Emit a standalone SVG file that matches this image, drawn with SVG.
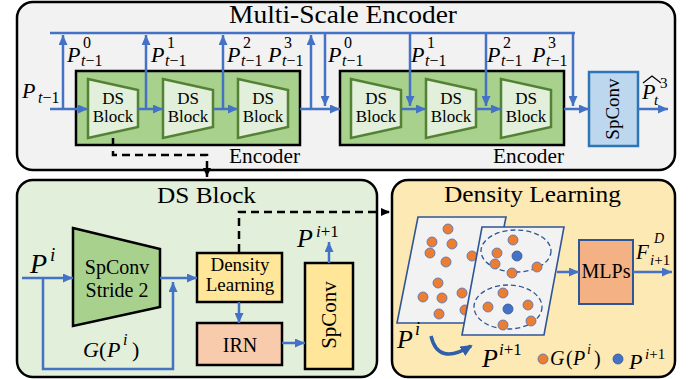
<svg xmlns="http://www.w3.org/2000/svg" width="695" height="379" viewBox="0 0 695 379" font-family="Liberation Serif">
<defs>
<marker id="ab" markerUnits="userSpaceOnUse" markerWidth="10" markerHeight="9" refX="10" refY="4.5" orient="auto"><path d="M0,0 L10,4.5 L0,9 z" fill="#4472c4"/></marker>
<marker id="ak" markerUnits="userSpaceOnUse" markerWidth="9" markerHeight="8" refX="9" refY="4" orient="auto"><path d="M0,0 L9,4 L0,8 z" fill="#000"/></marker>
<marker id="ac" markerUnits="userSpaceOnUse" markerWidth="12" markerHeight="11" refX="10" refY="5.5" orient="auto"><path d="M0,0 L12,5.5 L0,11 z" fill="#2e5fa8"/></marker>
</defs>
<style>
.m{font-style:italic}
.u{font-style:normal}
.panel{stroke:#000;stroke-width:2.5}
.box{stroke:#000;stroke-width:2.5}
.ds{fill:#e2efda;stroke:#548235;stroke-width:2.5}
.bl{fill:none;stroke:#4472c4;stroke-width:2.5}
.ba{fill:none;stroke:#4472c4;stroke-width:2.5;marker-end:url(#ab)}
.dash{fill:none;stroke:#000;stroke-width:2.5;stroke-dasharray:8 5;marker-end:url(#ak)}
.od{fill:#ed7d31;stroke:#4472c4;stroke-width:0.8}
.bd{fill:#4472c4;stroke:#2f5597;stroke-width:0.8}
.pg{fill:#f2f2f2;stroke:#2f5597;stroke-width:1.6}
.el{fill:none;stroke:#2f5597;stroke-width:1.3;stroke-dasharray:5 3}
</style>

<g id="panel-encoder">
<rect x="17" y="2" width="658" height="168" rx="16" fill="#f2f2f2" class="panel"/>
<text x="229" y="23" font-size="25" textLength="228" lengthAdjust="spacingAndGlyphs">Multi-Scale Encoder</text>
</g>
<g id="panel-dsblock">
<rect x="17" y="180" width="360" height="197" rx="16" fill="#e2efda" class="panel"/>
<text x="157" y="203" font-size="23" textLength="99" lengthAdjust="spacingAndGlyphs">DS Block</text>
</g>
<g id="panel-density">
<rect x="392" y="180" width="283" height="197" rx="16" fill="#fde9b4" class="panel"/>
<text x="444" y="202" font-size="24" textLength="177" lengthAdjust="spacingAndGlyphs">Density Learning</text>
</g>

<g id="encoder1">
<rect x="76" y="71" width="224" height="74" fill="#a9d18e" class="box"/>
<text x="229" y="163" font-size="21" textLength="71" lengthAdjust="spacingAndGlyphs">Encoder</text>
</g>
<g id="encoder2">
<rect x="340" y="71" width="224" height="74" fill="#a9d18e" class="box"/>
<text x="493" y="163" font-size="21" textLength="71" lengthAdjust="spacingAndGlyphs">Encoder</text>
</g>

<g id="ds1"><path class="ds" d="M88,79 L138,90 L138,127 L88,138 z"/><text x="113" y="104" font-size="17" text-anchor="middle">DS</text><text x="113" y="122" font-size="17" text-anchor="middle">Block</text></g>
<g id="ds2"><path class="ds" d="M163,79 L213,90 L213,127 L163,138 z"/><text x="188" y="104" font-size="17" text-anchor="middle">DS</text><text x="188" y="122" font-size="17" text-anchor="middle">Block</text></g>
<g id="ds3"><path class="ds" d="M238,79 L288,90 L288,127 L238,138 z"/><text x="263" y="104" font-size="17" text-anchor="middle">DS</text><text x="263" y="122" font-size="17" text-anchor="middle">Block</text></g>
<g id="ds4"><path class="ds" d="M351,79 L401,90 L401,127 L351,138 z"/><text x="376" y="104" font-size="17" text-anchor="middle">DS</text><text x="376" y="122" font-size="17" text-anchor="middle">Block</text></g>
<g id="ds5"><path class="ds" d="M426,79 L476,90 L476,127 L426,138 z"/><text x="451" y="104" font-size="17" text-anchor="middle">DS</text><text x="451" y="122" font-size="17" text-anchor="middle">Block</text></g>
<g id="ds6"><path class="ds" d="M501,79 L551,90 L551,127 L501,138 z"/><text x="526" y="104" font-size="17" text-anchor="middle">DS</text><text x="526" y="122" font-size="17" text-anchor="middle">Block</text></g>

<g id="spconv-top">
<rect x="589" y="72" width="49" height="74" fill="#bdd7ee" stroke="#2e75b6" stroke-width="2.5"/>
<text x="0" y="0" font-size="19" text-anchor="middle" transform="translate(619,109) rotate(-90)">SpConv</text>
</g>

<g id="spconv-stride">
<path d="M73,228 L160,249 L160,307 L73,326 z" fill="#a9d18e" class="box"/>
<text x="117" y="274" font-size="20" text-anchor="middle">SpConv</text>
<text x="117" y="297" font-size="20" text-anchor="middle">Stride 2</text>
</g>
<g id="density-box">
<rect x="197" y="253" width="85" height="49" fill="#ffe699" class="box"/>
<text x="240" y="271" font-size="19" text-anchor="middle">Density</text>
<text x="240" y="291" font-size="19" text-anchor="middle">Learning</text>
</g>
<g id="irn">
<rect x="197" y="323" width="85" height="42" fill="#f8cbad" class="box"/>
<text x="240" y="352" font-size="20" text-anchor="middle">IRN</text>
</g>
<g id="spconv-yellow">
<rect x="305" y="263" width="48" height="106" fill="#ffe699" class="box"/>
<text x="0" y="0" font-size="21" text-anchor="middle" transform="translate(336,315) rotate(-90)">SpConv</text>
</g>

<g id="point-clouds">
<path class="pg" d="M418,217 L506,217 L485,323 L397,323 z"/>
<circle class="od" cx="448" cy="229" r="5"/>
<circle class="od" cx="432" cy="242" r="5"/>
<circle class="od" cx="452" cy="244" r="5"/>
<circle class="od" cx="430" cy="253" r="5"/>
<circle class="od" cx="446" cy="262" r="5"/>
<circle class="od" cx="472" cy="256" r="5"/>
<circle class="od" cx="438" cy="283" r="5"/>
<circle class="od" cx="423" cy="297" r="5"/>
<circle class="od" cx="442" cy="298" r="5"/>
<circle class="od" cx="462" cy="293" r="5"/>
<circle class="od" cx="439" cy="314" r="5"/>
<circle class="od" cx="465" cy="310" r="5"/>
<path class="pg" d="M482,227 L564,227 L544,335 L462,335 z"/>
<ellipse class="el" cx="516" cy="251" rx="35" ry="21"/>
<ellipse class="el" cx="508" cy="307" rx="34" ry="22"/>
<circle class="od" cx="513" cy="240" r="5"/>
<circle class="od" cx="497" cy="253" r="5"/>
<circle class="bd" cx="517" cy="256" r="5"/>
<circle class="od" cx="495" cy="264" r="5"/>
<circle class="od" cx="512" cy="273" r="5"/>
<circle class="od" cx="537" cy="267" r="5"/>
<circle class="od" cx="503" cy="293" r="5"/>
<circle class="od" cx="488" cy="307" r="5"/>
<circle class="bd" cx="508" cy="309" r="5"/>
<circle class="od" cx="528" cy="305" r="5"/>
<circle class="od" cx="503" cy="325" r="5"/>
<circle class="od" cx="531" cy="321" r="5"/>
</g>
<g id="mlps">
<rect x="579" y="240" width="54" height="64" fill="#f4b183" stroke="#2f5597" stroke-width="2"/>
<text x="606" y="278" font-size="20" text-anchor="middle">MLPs</text>
</g>
<g id="legend">
<circle class="od" cx="543" cy="359" r="5"/>
<circle class="bd" cx="618" cy="359" r="5"/>
</g>

<g id="connectors">
<path class="bl" d="M50,33 H575"/>
<path class="ba" d="M50,109 H88"/>
<path class="ba" d="M63,109 V35"/>
<path class="ba" d="M138,109 H163"/>
<path class="ba" d="M146,109 V35"/>
<path class="ba" d="M213,109 H238"/>
<path class="ba" d="M223,109 V35"/>
<path class="ba" d="M300,109 H340"/>
<path class="ba" d="M311,109 V35"/>
<path class="ba" d="M325,33 V106"/>
<path class="ba" d="M401,109 H426"/>
<path class="ba" d="M410,33 V106"/>
<path class="ba" d="M476,109 H501"/>
<path class="ba" d="M486,33 V106"/>
<path class="ba" d="M564,109 H589"/>
<path class="ba" d="M573,33 V106"/>
<path class="ba" d="M638,109 H668"/>
<path class="dash" d="M113,138 V155 H207 V177"/>
<path class="dash" d="M239,252 V212 H390"/>
<path class="ba" d="M22,278 H73"/>
<path class="ba" d="M43,278 V369 H173 V282"/>
<path class="ba" d="M160,278 H197"/>
<path class="ba" d="M239,302 V323"/>
<path class="ba" d="M282,343 H305"/>
<path class="ba" d="M329,263 V242"/>
<path class="ba" d="M557,272 H579"/>
<path class="ba" d="M633,272 H672"/>
<path d="M431,336 Q438,366 471,346" fill="none" stroke="#2e5fa8" stroke-width="3.5" marker-end="url(#ac)"/>
</g>

<g id="labels">
<text class="m" x="22" y="98" font-size="22">P</text><text class="m" x="38" y="103" font-size="16">t<tspan class="u">−1</tspan></text>
<text class="m" x="67" y="62" font-size="22">P</text><text x="83" y="48" font-size="16">0</text><text class="m" x="81" y="66" font-size="16">t<tspan class="u">−1</tspan></text>
<text class="m" x="151" y="62" font-size="22">P</text><text x="167" y="48" font-size="16">1</text><text class="m" x="165" y="66" font-size="16">t<tspan class="u">−1</tspan></text>
<text class="m" x="227" y="62" font-size="22">P</text><text x="243" y="48" font-size="16">2</text><text class="m" x="241" y="66" font-size="16">t<tspan class="u">−1</tspan></text>
<text class="m" x="268" y="62" font-size="22">P</text><text x="284" y="48" font-size="16">3</text><text class="m" x="282" y="66" font-size="16">t<tspan class="u">−1</tspan></text>
<text class="m" x="328" y="62" font-size="22">P</text><text x="344" y="48" font-size="16">0</text><text class="m" x="342" y="66" font-size="16">t<tspan class="u">−1</tspan></text>
<text class="m" x="411" y="62" font-size="22">P</text><text x="427" y="48" font-size="16">1</text><text class="m" x="425" y="66" font-size="16">t<tspan class="u">−1</tspan></text>
<text class="m" x="487" y="62" font-size="22">P</text><text x="503" y="48" font-size="16">2</text><text class="m" x="501" y="66" font-size="16">t<tspan class="u">−1</tspan></text>
<text class="m" x="532" y="62" font-size="22">P</text><text x="548" y="48" font-size="16">3</text><text class="m" x="546" y="66" font-size="16">t<tspan class="u">−1</tspan></text>
<text class="m" x="642" y="99" font-size="22">P</text><path d="M643,83 L652,76 L661,83" fill="none" stroke="#000" stroke-width="1.2"/><text x="660" y="88" font-size="15">3</text><text class="m" x="654" y="105" font-size="15">t</text>
<text class="m" x="30" y="273" font-size="28">P</text><text class="m" x="50" y="261" font-size="19">i</text>
<text class="m" x="83" y="357" font-size="22">G</text><text x="99" y="357" font-size="22">(</text><text class="m" x="107" y="357" font-size="22">P</text><text class="m" x="123" y="345" font-size="16">i</text><text x="132" y="357" font-size="22">)</text>
<text class="m" x="297" y="247" font-size="26">P</text><text class="m" x="316" y="237" font-size="17">i<tspan class="u">+1</tspan></text>
<text class="m" x="636" y="259" font-size="21">F</text><text class="m" x="654" y="243" font-size="14">D</text><text class="m" x="650" y="265" font-size="15">i<tspan class="u">+1</tspan></text>
<text class="m" x="397" y="348" font-size="26">P</text><text class="m" x="415" y="335" font-size="18">i</text>
<text class="m" x="482" y="367" font-size="26">P</text><text class="m" x="499" y="355" font-size="17">i<tspan class="u">+1</tspan></text>
<text class="m" x="550" y="365" font-size="20">G</text><text x="566" y="365" font-size="20">(</text><text class="m" x="573" y="365" font-size="20">P</text><text class="m" x="587" y="354" font-size="14">i</text><text x="594" y="365" font-size="20">)</text>
<text class="m" x="629" y="369" font-size="22">P</text><text class="m" x="645" y="359" font-size="15">i<tspan class="u">+1</tspan></text>
</g>
</svg>
